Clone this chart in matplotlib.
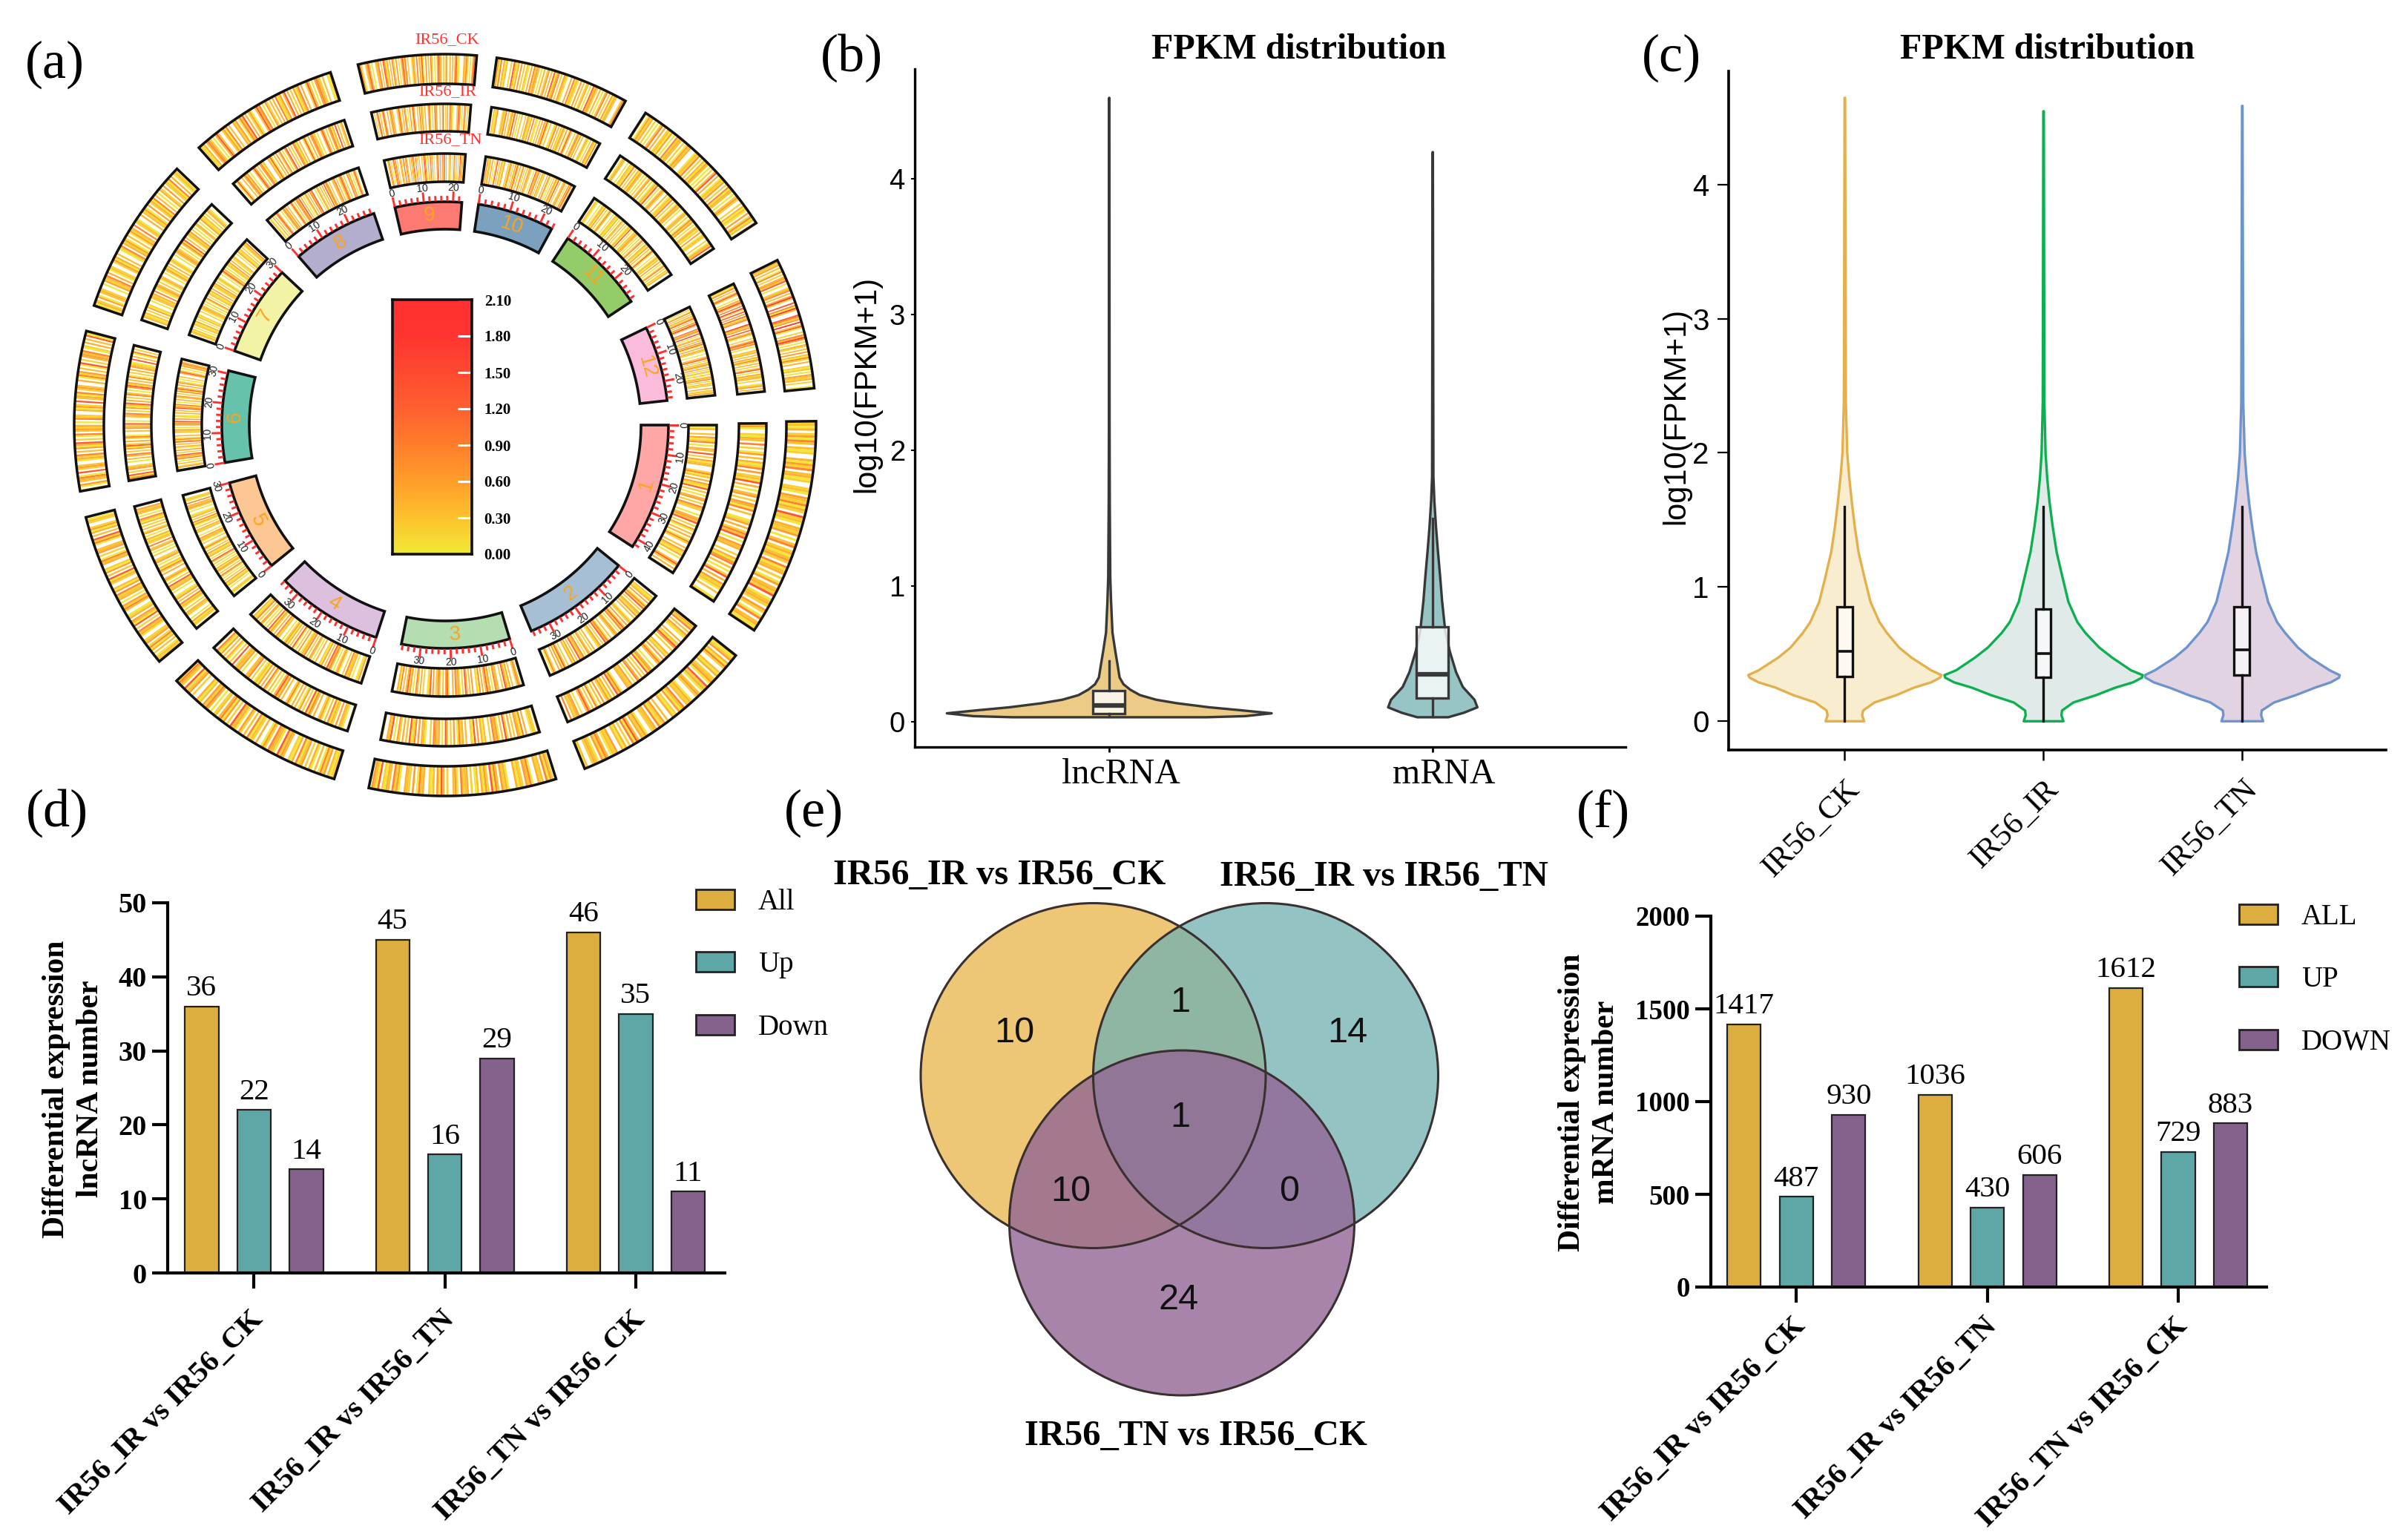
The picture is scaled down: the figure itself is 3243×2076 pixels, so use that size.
import numpy as np
import matplotlib
matplotlib.use('Agg')
import matplotlib.pyplot as plt
from matplotlib.collections import PolyCollection
from matplotlib.colors import LinearSegmentedColormap
from matplotlib.patches import Polygon, Circle, Patch
from matplotlib.transforms import ScaledTranslation

plt.rcParams['font.family'] = 'Liberation Serif'
SANS = 'Liberation Sans'
W, H = 3243, 2076

# ---------- panel (a) data
chrom_names = ['1', '2', '3', '4', '5', '6', '7', '8', '9', '10', '11', '12']
chrom_len = [43, 36.5, 36.5, 36, 30, 31, 30, 29, 23, 24, 29, 27]
chrom_start = [0, -39, -73.2, -108, -141, -170.3, -199.4, -229, -257, -278.6, -303.3, -334.2]
chrom_end = [-33, -67.3, -101.3, -135.8, -165, -194.1, -223.1, -251.4, -274.3, -298.5, -326.4, -353.7]
chrom_col = ['#FFA6A6', '#A6BFD4', '#B5DDB2', '#DCC0DD', '#FDC794', '#66C2AA', '#F3F3A6', '#B3ADCE',
             '#FC7A72', '#7BA1BF', '#94CC6A', '#FBBBDB']
sample_names = ['IR56_CK', 'IR56_IR', 'IR56_TN']
cbar_ticks = [0.0, 0.3, 0.6, 0.9, 1.2, 1.5, 1.8, 2.1]
# expression stripes, read along each chromosome; each sign stands for one level of stripe_level
stripe_level = {'1': 0.03, '2': 0.2, '3': 0.32, '4': 0.45, '5': 0.6, '7': 0.85, '8': 1.3, '9': 1.9}  # '.', '6': no signal
track_ck = [
 '2314.25173.3126.41527.3412.6231.5327142.8231.4325.1637.241352.7134.2615.3428.1342.52617.3412',
 '3125.4172.6314.2351.8241.3526.1423.7315.2146.3.5217.4326.1524.3817.2.4136.5231.4725.1342.631',
 '.2517.3246.1735.2314.6.1425.3718.2514.3162.4327.1536.2.4815.3126.4371.5.2346.1527.3412.8135.',
 '4213.5271.3614.2.5317.4126.3528.1347.2516.4.2317.3625.1438.2.5174.3261.4725.3146.2.5318.2471',
 '5231.3.4172.5326.1437.2.8135.4216.3725.1.4327.5136.2418.3.5126.4371.2.5436.1728.3.4152.6231.',
 '2615.3471.8.2536.1427.3.5148.2617.3524.1.7326.4152.8.3417.2536.4.1725.3618.2.4537.1264.3.812',
 '3142.51.3426.1.5237.4.1326.2514.3.6127.4251.3.1524.7.2316.4.3251.5.2417.3.1642.5.2317.4.1326',
 '6214.3752.1.4836.2517.3.6425.1738.4.2516.3847.1.5263.4.7125.3864.2.5137.4.6283.1.5742.3.6118',
 '4716.2583.1.6347.2.8514.3.7265.1.4837.2.6153.7.4281.5.3672.1.4853.2.7164.3.5821.6.4372.1.583',
 '2517.4136.2.8314.5.2631.4.7253.1.4625.3.8147.2.5316.4.7231.5.3624.1.8352.4.1637.2.5143.6.271',
 '3.1524.2.1637.4.2315.1.7243.2.1534.6.1327.2.4153.1.2638.4.1325.2.7143.1.3526.2.4131.5.2713.4',
 '1425.3617.2.4538.1.6247.3.5926.8.7193.6.8725.9.3816.2.7495.1.4263.5.3172.4.6213.1.5324.2.613']
track_ir = [
 '3516.2143.7.2615.3.4127.5.2318.4.1635.2.5417.3.6125.4.2738.1.5346.2.4157.3.1628.4.5231.3.614',
 '1427.3.5216.4.3185.2.6413.5.2736.1.4518.2.3647.1.5234.6.1728.3.4152.5.3617.2.4836.1.5423.7.2',
 '5.2316.4.7135.2.4628.3.1547.2.6314.5.8126.3.4271.5.2638.1.4357.2.6134.5.7218.3.4625.1.8346.2',
 '2.6134.5.2417.3.1526.4.3718.2.5163.4.1726.3.5284.1.3627.4.5131.2.7436.1.5342.8.2614.3.5127.4',
 '4.2315.1.6234.2.1427.3.5216.1.4328.2.1536.4.2713.1.5326.2.1643.7.2314.1.5263.2.4137.1.3425.6',
 '3718.2.5426.1.3647.2.5183.4.2716.3.5428.1.6347.2.5138.4.2673.1.5824.3.7162.4.5321.8.3617.2.5',
 '1.4213.2.5126.1.3324.7.1253.2.1436.1.2513.4.2316.1.3542.1.2718.3.1425.2.1634.1.5213.2.4316.1',
 '5.1826.3.4725.1.6384.2.5713.6.4281.3.5627.1.4863.2.7514.3.6281.4.5732.1.6483.2.5714.8.3625.1',
 '7.2648.3.1856.4.2743.6.1582.4.7361.5.2846.3.7152.4.6381.2.5746.3.1862.5.4731.6.2583.1.7462.3',
 '4.3125.6.1427.3.2518.4.1636.2.5314.7.2163.4.5281.3.6127.4.3152.5.1836.2.4715.3.6241.2.5317.4',
 '2.1436.1.3217.2.4153.1.2635.2.1428.1.3526.4.1327.2.1534.1.6243.2.1725.1.3412.5.1326.2.1438.1',
 '5217.3.4826.1.5394.7.9268.5.8137.6.9425.8.3716.2.5847.1.6324.3.5172.4.2638.1.5243.2.6135.4.1']
track_tn = [
 '2146.3.5127.1.4368.2.5134.6.2713.4.5218.3.1645.2.7326.1.4538.2.5163.4.1726.3.5214.1.6382.4.5',
 '6.3124.5.1728.2.4315.3.6142.5.2837.1.4526.3.1748.2.5316.4.2635.1.7428.3.5146.2.3815.4.6271.3',
 '1.4726.3.5148.2.6347.1.5283.4.7126.5.3648.2.1537.4.6285.3.1742.5.8316.2.4637.1.5284.3.7146.2',
 '3.5216.1.4327.2.6153.1.2748.3.5126.4.1635.2.7341.5.2618.3.4152.1.6327.4.2518.3.1645.2.7314.1',
 '2.1326.1.4215.3.1627.2.3514.1.2638.1.4215.3.1726.2.1435.1.6324.2.1517.3.4216.1.2534.7.1326.2',
 '4.5263.1.7348.2.5614.3.8172.4.6325.1.4738.5.2164.3.8527.1.4635.2.7183.4.5261.3.6482.1.5374.2',
 '1.2413.1.3215.1.4126.2.1343.1.2617.1.3214.5.1325.2.1416.1.3824.1.2315.4.1236.1.5213.2.1427.1',
 '7.3164.2.5836.1.4725.3.6184.2.5738.4.1625.3.7486.1.5263.4.8175.2.6347.3.1584.2.6735.1.4826.3',
 '3.6275.1.4837.2.6451.8.3726.4.5183.7.2646.3.5871.4.2765.1.6384.5.2748.3.6152.1.7463.2.8534.6',
 '2.7143.5.1628.3.4215.6.3174.2.5183.4.1762.3.5426.1.8347.2.5136.4.7261.3.5418.2.6345.1.7283.4',
 '1.3216.1.2415.2.1736.1.3214.1.5263.2.1418.1.3254.1.2637.1.4215.3.1826.1.2413.5.1627.2.3146.1',
 '4.2617.3.5148.2.7395.6.8274.9.1635.4.7281.5.3426.1.6358.2.4173.5.2641.3.1527.2.4136.5.2317.1']

# ---------- panel (b) data
b_names = ['lncRNA', 'mRNA']
lnc_y = [0.037, 0.045, 0.066, 0.09, 0.11, 0.14, 0.166, 0.2, 0.24, 0.28, 0.33, 0.42, 0.52, 0.66, 0.89, 1.07, 1.63, 2.2, 4.6]
lnc_w = [0.30, 0.42, 0.502, 0.40, 0.31, 0.21, 0.145, 0.095, 0.065, 0.044, 0.032, 0.026, 0.019, 0.010, 0.0056, 0.0032, 0.0016, 0.001, 0.0004]
mrna_y = [0.037, 0.07, 0.11, 0.166, 0.26, 0.37, 0.52, 0.665, 0.89, 1.07, 1.26, 1.44, 1.63, 1.81, 4.2]
mrna_w = [0.048, 0.096, 0.138, 0.129, 0.093, 0.072, 0.053, 0.039, 0.029, 0.023, 0.016, 0.010, 0.005, 0.002, 0.0004]
b_box = [dict(q1=0.063, med=0.122, q3=0.23, whislo=0.04, whishi=0.45),
         dict(q1=0.177, med=0.35, q3=0.70, whislo=0.04, whishi=1.5)]

# ---------- panel (c) data
c_names = ['IR56_CK', 'IR56_IR', 'IR56_TN']
ck_y = [0, 0.045, 0.08, 0.14, 0.195, 0.25, 0.29, 0.325, 0.344, 0.38, 0.475, 0.55, 0.66, 0.74, 0.89, 1.07, 1.26, 1.45, 1.635, 1.82, 2.0, 2.38, 4.65]
ck_w = [0.097, 0.087, 0.092, 0.149, 0.26, 0.347, 0.434, 0.479, 0.486, 0.434, 0.335, 0.273, 0.211, 0.174, 0.129, 0.099, 0.069, 0.05, 0.035, 0.022, 0.012, 0.005, 0.0012]
ir_y = [0, 0.045, 0.08, 0.14, 0.195, 0.25, 0.29, 0.325, 0.344, 0.38, 0.475, 0.55, 0.66, 0.74, 0.89, 1.07, 1.26, 1.45, 1.635, 1.82, 2.0, 2.38, 4.55]
ir_w = [0.10, 0.09, 0.093, 0.15, 0.265, 0.36, 0.45, 0.495, 0.499, 0.44, 0.345, 0.28, 0.21, 0.17, 0.125, 0.096, 0.066, 0.046, 0.03, 0.018, 0.01, 0.004, 0.0012]
tn_y = [0, 0.045, 0.08, 0.14, 0.195, 0.25, 0.29, 0.325, 0.344, 0.38, 0.475, 0.55, 0.66, 0.74, 0.89, 1.07, 1.26, 1.45, 1.635, 1.82, 2.0, 2.38, 4.59]
tn_w = [0.105, 0.095, 0.098, 0.16, 0.27, 0.365, 0.445, 0.487, 0.49, 0.44, 0.34, 0.28, 0.215, 0.175, 0.13, 0.10, 0.07, 0.05, 0.034, 0.021, 0.012, 0.005, 0.0012]
c_box = [dict(q1=0.333, med=0.52, q3=0.85, whislo=0, whishi=1.6),
         dict(q1=0.325, med=0.505, q3=0.835, whislo=0, whishi=1.6),
         dict(q1=0.344, med=0.528, q3=0.85, whislo=0, whishi=1.6)]

# ---------- panels (d), (e), (f) data
groups = ['IR56_IR vs IR56_CK', 'IR56_IR vs IR56_TN', 'IR56_TN vs IR56_CK']
d_all = [36, 45, 46]
d_up = [22, 16, 35]
d_down = [14, 29, 11]
f_all = [1417, 1036, 1612]
f_up = [487, 430, 729]
f_down = [930, 606, 883]
venn_counts = [10, 14, 24, 1, 10, 0, 1]
bar_colors = ['#DCAE3F', '#5FA6A6', '#84628B']

fig = plt.figure(figsize=(W / 100, H / 100), dpi=100, facecolor='white')


def box(x0, y0, x1, y1):
    return [x0 / W, 1 - y1 / H, (x1 - x0) / W, (y1 - y0) / H]


def ft(x, y, s, **kw):
    return fig.text(x / W, 1 - y / H, s, **kw)


def shift_labels(a, dx, dy):
    off = ScaledTranslation(dx / 100, -dy / 100, fig.dpi_scale_trans)
    for lab in a.get_xticklabels():
        lab.set_transform(lab.get_transform() + off)


# ---------- panel (a)
heat = LinearSegmentedColormap.from_list('heat', [(0, '#F0EA35'), (0.3 / 2.1, '#FDC22E'), (0.6 / 2.1, '#FF9E2A'),
                                                  (0.9 / 2.1, '#FF7E2C'), (1.2 / 2.1, '#FF6030'), (1.5 / 2.1, '#FF4A30'),
                                                  (1.8 / 2.1, '#FF3530'), (1, '#FF3030')])
CX, CY = 600, 573
ax = fig.add_axes(box(0, 0, 1120, 1080))
ax.set_xlim(-CX, 1120 - CX)
ax.set_ylim(CY - 1080, CY)
ax.axis('off')


def arc(a0, a1, r0, r1):
    t = np.radians(np.linspace(a0, a1, 40))
    return np.r_[np.c_[r0 * np.cos(t), r0 * np.sin(t)], np.c_[r1 * np.cos(t[::-1]), r1 * np.sin(t[::-1])]]


def upright(theta):
    r = theta % 180 - 90
    if r < -75 and np.cos(np.radians(theta)) < 0:
        r += 180
    return r


CH0, CH1 = 264, 301
rings = [(460, 500, track_ck, 0.6), (396, 433, track_ir, 0.3), (328, 366, track_tn, 0.0)]
for r0, r1, track, extra in rings:
    for s, e, code in zip(chrom_start, chrom_end, track):
        s2, e2 = s + extra, e - extra
        edges = np.linspace(s2, e2, len(code) + 1)
        polys, vals = [], []
        for i, c in enumerate(code):
            if c not in stripe_level:
                continue
            t = np.radians([edges[i], edges[i + 1]])
            polys.append([(r0 * np.cos(t[0]), r0 * np.sin(t[0])), (r0 * np.cos(t[1]), r0 * np.sin(t[1])),
                          (r1 * np.cos(t[1]), r1 * np.sin(t[1])), (r1 * np.cos(t[0]), r1 * np.sin(t[0]))])
            vals.append(stripe_level[c])
        pc = PolyCollection(polys, array=np.array(vals), cmap=heat, clim=(0, 2.1), linewidths=0)
        ax.add_collection(pc)
        ax.add_patch(Polygon(arc(s2, e2, r0, r1), closed=True, fc='none', ec='#111111', lw=2.5, joinstyle='miter'))

for name, L, s, e, col in zip(chrom_names, chrom_len, chrom_start, chrom_end, chrom_col):
    ax.add_patch(Polygon(arc(s, e, CH0, CH1), closed=True, fc=col, ec='#111111', lw=2.6, joinstyle='miter'))
    mid = np.radians((s + e) / 2)
    ax.text(283 * np.cos(mid), 283 * np.sin(mid), name, color='#F9A51E', fontsize=20, family=SANS,
            ha='center', va='center', rotation=upright((s + e) / 2))
    for m in range(0, int(L) + 1, 2):
        th = s + (e - s) * m / L
        t = np.radians(th)
        ln = 13 if m % 10 == 0 else 7
        ax.plot([302 * np.cos(t), (302 + ln) * np.cos(t)], [302 * np.sin(t), (302 + ln) * np.sin(t)],
                color='#FF3030', lw=2.1, solid_capstyle='butt')
        if m % 10 == 0:
            ax.text(320 * np.cos(t), 320 * np.sin(t), str(m), fontsize=10, family=SANS, color='#222222',
                    ha='center', va='center', rotation=upright(th), zorder=6)

for name, x, y in zip(sample_names, [603, 603, 607], [54, 124, 189]):
    ft(x, y, name, color='#FF3030', fontsize=16, ha='center', va='center')

cax = fig.add_axes(box(529, 404, 636, 747))
cax.imshow(np.linspace(2.1, 0, 256)[:, None], aspect='auto', cmap=heat, vmin=0, vmax=2.1, extent=(0, 1, 0, 2.1))
cax.set_xticks([])
cax.set_yticks(cbar_ticks, [f'{v:.2f}' for v in cbar_ticks], fontsize=15, fontweight='bold')
cax.yaxis.tick_right()
cax.tick_params(axis='y', direction='in', length=14, width=2.2, color='white', pad=12)
for sp in cax.spines.values():
    sp.set_linewidth(2.6)
    sp.set_color('#111111')


# ---------- panels (b), (c)
def clean(a, lw):
    a.spines['top'].set_visible(False)
    a.spines['right'].set_visible(False)
    a.spines['left'].set_linewidth(lw)
    a.spines['bottom'].set_linewidth(lw)
    a.patch.set_alpha(0)


axb = fig.add_axes(box(1233, 93, 2191, 1007))
clean(axb, 2.4)
axb.set_xlim(-0.6, 1.597)
axb.set_ylim(-0.185, 4.81)
for i, (y, w, col) in enumerate([(lnc_y, lnc_w, '#EBCB85'), (mrna_y, mrna_w, '#97C4C4')]):
    y, w = np.array(y), np.array(w)
    axb.fill_betweenx(y, i - w, i + w, fc=col, ec='#383838', lw=2.4, zorder=2)
bp = axb.bxp(b_box, positions=[0, 1], widths=0.1, showfliers=False, showcaps=False, patch_artist=True, zorder=3,
             boxprops=dict(facecolor=(1, 1, 1, 0.8), edgecolor='#383838', linewidth=2.4),
             whiskerprops=dict(color='#383838', linewidth=2.4),
             medianprops=dict(color='#383838', linewidth=4.5, solid_capstyle='butt'))
axb.set_xticks([0, 1], b_names, fontsize=34.5)
axb.set_yticks([0, 1, 2, 3, 4], ['0', '1', '2', '3', '4'], fontsize=27.5, family=SANS)
axb.tick_params(axis='y', length=3.5, width=1.5, pad=6)
axb.tick_params(axis='x', length=5, width=2, pad=6)
shift_labels(axb, 16, 0)
ft(1168, 518, 'log10(FPKM+1)', fontsize=30, family=SANS, rotation=90, ha='center', va='center')
ft(1751, 67, 'FPKM distribution', fontsize=34.7, fontweight='bold', ha='center', va='center')

axc = fig.add_axes(box(2330, 96, 3216, 1011))
clean(axc, 2.6)
axc.set_xlim(-0.583, 2.725)
axc.set_ylim(-0.217, 4.846)
for i, (y, w, fc, ec) in enumerate([(ck_y, ck_w, '#F9EDCF', '#E3B04B'), (ir_y, ir_w, '#E0EAE8', '#0CB04F'),
                                    (tn_y, tn_w, '#E2D3E2', '#6E94CE')]):
    y, w = np.array(y), np.array(w)
    axc.fill_betweenx(y, i - w, i + w, fc=fc, ec=ec, lw=2.4, zorder=2)
axc.bxp(c_box, positions=[0, 1, 2], widths=0.078, showfliers=False, showcaps=False, patch_artist=True, zorder=3,
        boxprops=dict(facecolor=(1, 1, 1, 0.7), edgecolor='#111111', linewidth=2.4),
        whiskerprops=dict(color='#111111', linewidth=2.4),
        medianprops=dict(color='#111111', linewidth=2.6, solid_capstyle='butt'))
axc.set_xticks([0, 1, 2], c_names, fontsize=31, rotation=45, ha='right', va='center', rotation_mode='anchor')
axc.set_yticks([0, 1, 2, 3, 4], ['0', '1', '2', '3', '4'], fontsize=29, family=SANS)
axc.tick_params(axis='y', length=11, width=1.6, pad=8)
axc.tick_params(axis='x', length=10, width=1.8, pad=24)
shift_labels(axc, 15, 0)
ft(2259, 561, 'log10(FPKM+1)', fontsize=30, family=SANS, rotation=90, ha='center', va='center')
ft(2760, 67, 'FPKM distribution', fontsize=34.7, fontweight='bold', ha='center', va='center')


# ---------- panels (d), (f)
def bars(a, series, ymax, yticks, ysize, pad):
    clean(a, 3)
    pos = np.arange(3)
    off = [-0.274, 0, 0.274]
    for vals, o, col in zip(series, off, bar_colors):
        rects = a.bar(pos + o, vals, width=0.176, color=col, edgecolor='#222222', linewidth=1.6)
        a.bar_label(rects, padding=4, fontsize=29.5)
    a.set_ylim(0, ymax)
    a.set_yticks(yticks, [str(v) for v in yticks], fontsize=ysize, fontweight='bold')
    a.set_xticks(pos, groups, fontsize=29, fontweight='bold', rotation=45, ha='right', va='center',
                 rotation_mode='anchor')
    a.tick_params(axis='y', length=15, width=3, pad=5)
    a.tick_params(axis='x', length=15, width=3, pad=pad)
    shift_labels(a, 7, 0)


axd = fig.add_axes(box(225.6, 1217, 976.5, 1716))
axd.set_xlim(-0.454, 2.465)
bars(axd, [d_all, d_up, d_down], 50, [0, 10, 20, 30, 40, 50], 27.5, 26)
axd.legend(handles=[Patch(fc=c, ec='#222222', lw=2, label=l) for c, l in zip(bar_colors, ['All', 'Up', 'Down'])],
           loc='upper left', bbox_to_anchor=(938 / W, 1 - 1198 / H), bbox_transform=fig.transFigure, frameon=False,
           fontsize=28, handlelength=1.33, handleheight=0.69, handletextpad=0.83, labelspacing=1.22, borderpad=0,
           borderaxespad=0)
ft(99, 1468, 'Differential expression\nlncRNA number', fontsize=30, fontweight='bold', rotation=90,
   ha='center', va='center', multialignment='center', linespacing=1.25)

axf = fig.add_axes(box(2305.5, 1235, 3055, 1735))
axf.set_xlim(-0.45, 2.462)
bars(axf, [f_all, f_up, f_down], 2000, [0, 500, 1000, 1500, 2000], 26.6, 19)
axf.legend(handles=[Patch(fc=c, ec='#222222', lw=2, label=l) for c, l in zip(bar_colors, ['ALL', 'UP', 'DOWN'])],
           loc='upper left', bbox_to_anchor=(3018 / W, 1 - 1218 / H), bbox_transform=fig.transFigure, frameon=False,
           fontsize=28, handlelength=1.33, handleheight=0.69, handletextpad=0.83, labelspacing=1.22, borderpad=0,
           borderaxespad=0)
ft(2142, 1486, 'Differential expression\nmRNA number', fontsize=30, fontweight='bold', rotation=90,
   ha='center', va='center', multialignment='center', linespacing=1.25)

# ---------- panel (e)
axe = fig.add_axes(box(1140, 1150, 2100, 2000))
axe.set_xlim(1140, 2100)
axe.set_ylim(2000, 1150)
axe.axis('off')
venn_c = [(1473.5, 1450, '#EDC676', 1.0), (1706, 1450, '#71B1B1', 0.76), (1593, 1648.5, '#926695', 0.8)]
venn_txt = [(1367, 1393), (1816, 1393), (1589, 1753), (1591, 1352), (1443, 1607), (1738, 1607), (1591, 1507)]
for x, y, col, al in venn_c:
    axe.add_patch(Circle((x, y), 232.5, fc=col, alpha=al, ec='none'))
for x, y, col, al in venn_c:
    axe.add_patch(Circle((x, y), 232.5, fc='none', ec='#3A3030', lw=2.2))
for (x, y), v in zip(venn_txt, venn_counts):
    axe.text(x, y, str(v), fontsize=35, family=SANS, ha='center', va='center', color='#111111')
ft(1347, 1180, groups[0], fontsize=35, fontweight='bold', ha='center', va='center')
ft(1865, 1182, groups[1], fontsize=35, fontweight='bold', ha='center', va='center')
ft(1612, 1936, groups[2], fontsize=35, fontweight='bold', ha='center', va='center')

# ---------- panel letters
for s, x, y in [('(a)', 34, 87), ('(b)', 1106, 78), ('(c)', 2213, 78), ('(d)', 35, 1096), ('(e)', 1057, 1096),
                ('(f)', 2125, 1098)]:
    ft(x, y, s, fontsize=52, ha='left', va='center')

fig.savefig('out.png', dpi=100)
